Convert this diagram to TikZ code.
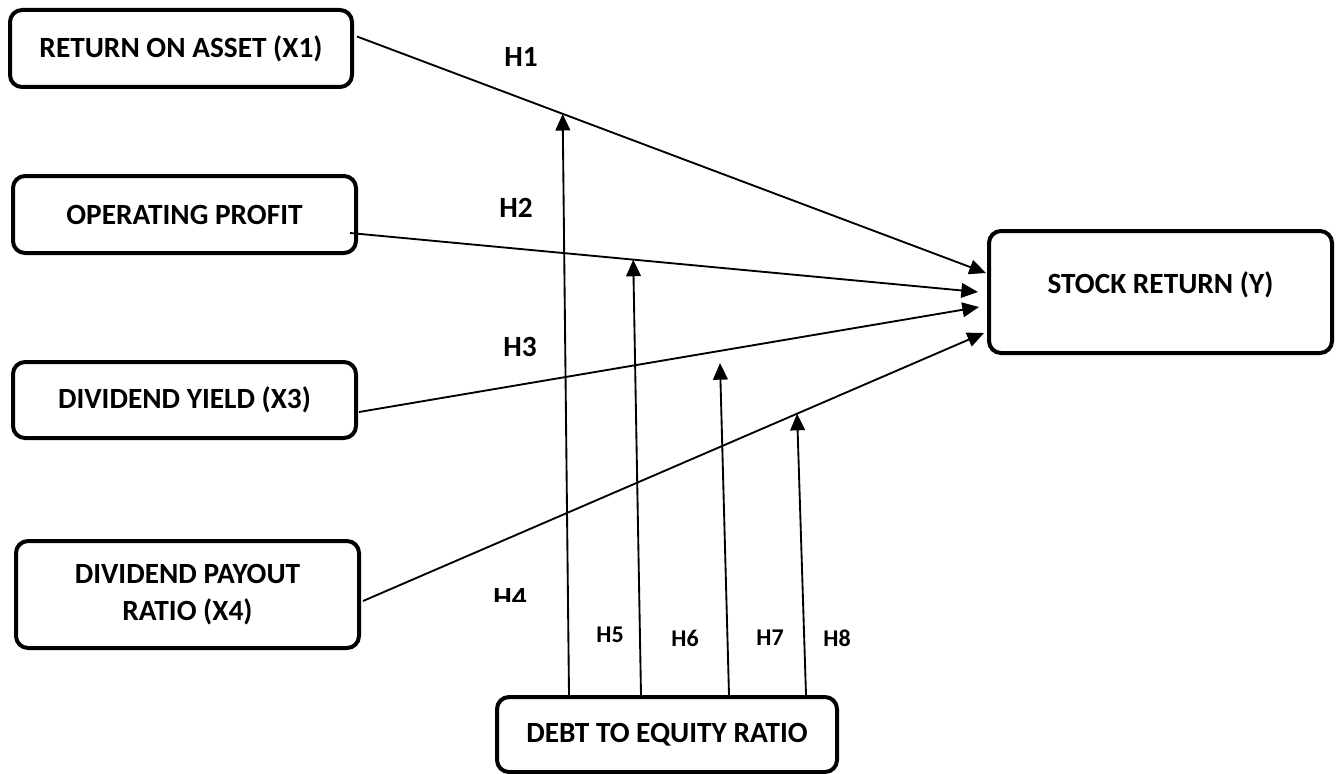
\documentclass[tikz,border=0pt]{standalone}
\usepackage{fontspec}
\setmainfont{Carlito}
\usetikzlibrary{arrows.meta,positioning,calc}
\tikzset{
  var/.style={rectangle,draw,rounded corners=9pt,line width=3pt,align=center,inner sep=0pt,
    font=\fontsize{22}{28}\selectfont\bfseries},
  link/.style={-{Triangle[length=12.5pt,width=11pt]}, line width=1.4pt},
  hyp/.style={font=\fontsize{22}{26}\selectfont\bfseries},
  hypsmall/.style={font=\fontsize{18}{21}\selectfont\bfseries}
}

\begin{document}
\begin{tikzpicture}[x=0.75pt,y=-0.75pt]
  \useasboundingbox (0,0) rectangle (1338,774);
  % variables
  \node[var, minimum width=256.5pt, minimum height=57.75pt] (roa) at (181,48.5) {RETURN ON ASSET (X1)};
  \node[var, minimum width=257.25pt, minimum height=57.75pt] (op) at (184.5,214.5) {OPERATING PROFIT};
  \node[var, minimum width=257.25pt, minimum height=57pt] (dy) at (184.5,400) {DIVIDEND YIELD (X3)};
  \node[var, minimum width=257.25pt, minimum height=80.25pt] (dpr) at (187.5,594.5) {DIVIDEND PAYOUT\\RATIO (X4)};
  \node[var, minimum width=257.25pt, minimum height=91.5pt, text depth=14pt] (sr) at (1160.5,292) {STOCK RETURN (Y)};
  \node[var, minimum width=255pt, minimum height=56.25pt] (der) at (667,734.5) {DEBT TO EQUITY RATIO};

  % direct effects
  \draw[link] ($(roa.east)+(3,-12)$) -- coordinate[pos=0.327] (t5) ($(sr.west)+(-1,-19)$);
  \draw[link] ($(op.east)+(-8,18.5)$) -- coordinate[pos=0.451] (t6) ($(sr.west)+(-9,0)$);
  \draw[link] ($(dy.east)+(1,12)$) -- ($(sr.west)+(-8,15)$);
  \draw[link] ($(dpr.east)+(2,6.5)$) -- coordinate[pos=0.699] (t8) ($(sr.west)+(-3,41)$);
  \coordinate (t7) at (720,363);

  % moderation
  \draw[link] ($(der.north west)+(74,0)$) -- (t5);
  \draw[link] ($(der.north west)+(146,0)$) -- (t6);
  \draw[link] ($(der.north west)+(234,0)$) -- (t7);
  \draw[link] ($(der.north west)+(311,0)$) -- (t8);

  % labels
  \node[hyp] (h1) at (521,57) {H1};
  \node[hyp] (h2) at (516,208) {H2};
  \node[hyp] (h3) at (520,347) {H3};
  \begin{scope}
    \clip (470,570) rectangle (560,601);
    \node[hyp] (h4) at (510,598) {H4};
  \end{scope}
  \node[hypsmall] (h5) at (610,635) {H5};
  \node[hypsmall] (h6) at (685,638) {H6};
  \node[hypsmall] (h7) at (770,638) {H7};
  \node[hypsmall] (h8) at (837,638) {H8};
\end{tikzpicture}
\end{document}
